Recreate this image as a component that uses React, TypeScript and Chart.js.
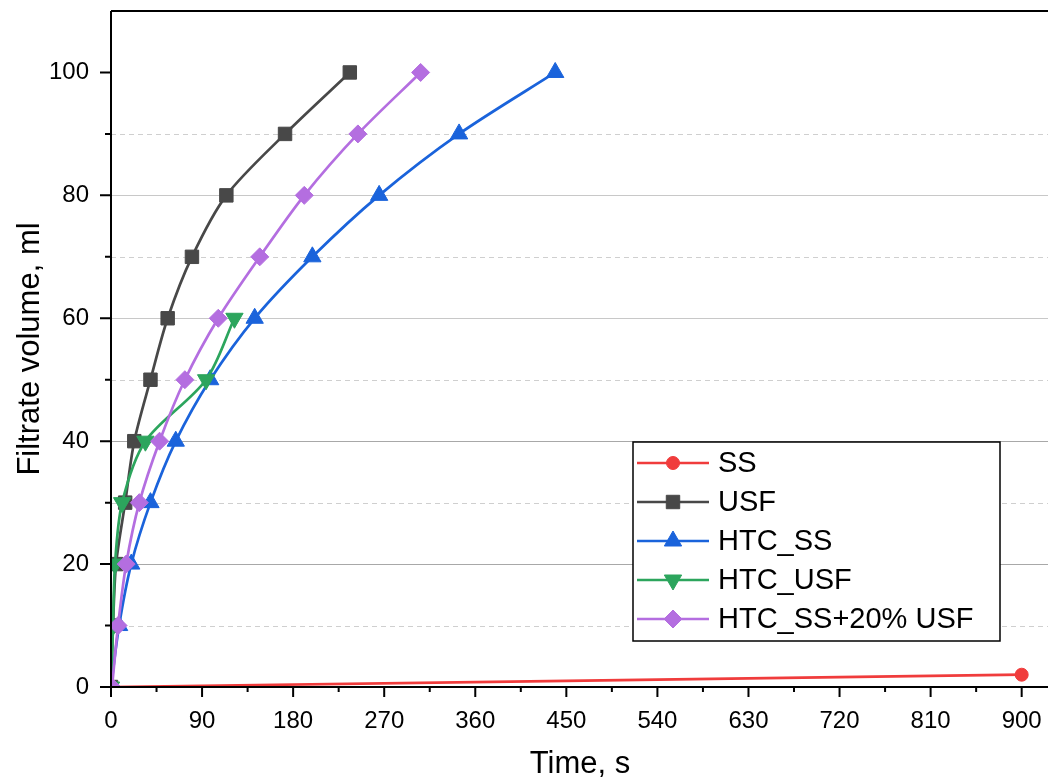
import React, { useEffect, useRef } from "react";
import { Chart, registerables } from "chart.js";
import { drawPoint } from "chart.js/helpers";

Chart.register(...registerables);

const seriesNames = ["SS", "USF", "HTC_SS", "HTC_USF", "HTC_SS+20% USF"];
const seriesColors = ["#F03C3C", "#484848", "#1A63DB", "#2CA55D", "#B46EE0"];
const seriesMarkers = ["circle", "rect", "triangle", "triangle", "rectRot"];
const seriesRotation = [0, 0, 0, 180, 0];
const seriesRadius = [6.5, 9.5, 10, 10, 9];

const volume = [0, 10, 20, 30, 40, 50, 60, 70, 80, 90, 100];

const ssTime = [0, 900];
const ssVolume = [0, 2];
const usfTime = [0, 2, 5, 14, 23, 39, 56, 80, 114, 172, 236];
const htcSsTime = [0, 8, 20, 39, 64, 98, 142, 199, 265, 344, 439];
const htcUsfTime = [0, 2, 4, 11, 34, 94, 122];
const htcMixTime = [1, 7, 15, 28, 48, 73, 106, 147, 191, 244, 306];

const xMajorTicks = [0, 90, 180, 270, 360, 450, 540, 630, 720, 810, 900];
const xMinorTicks = [45, 135, 225, 315, 405, 495, 585, 675, 765, 855];
const yMajorTicks = [0, 20, 40, 60, 80, 100];
const yMinorTicks = [10, 30, 50, 70, 90];
const ySolidGrid = [20, 40, 60, 80];
const yDashedGrid = [10, 30, 50, 70, 90];

const FONT = "'Liberation Sans', Arial, sans-serif";

function pts(xs: number[], ys: number[]) {
  return xs.map((x, i) => ({ x, y: ys[i] }));
}

const framePlugin = {
  id: "frame",
  beforeDatasetsDraw(chart: any) {
    const { ctx, chartArea } = chart;
    const y = chart.scales.y;
    ctx.save();
    ctx.lineWidth = 1;
    ySolidGrid.forEach((v) => {
      const p = Math.round(y.getPixelForValue(v)) + 0.5;
      ctx.strokeStyle = v <= 40 ? "#a8a8a8" : "#c8c8c8";
      ctx.setLineDash([]);
      ctx.beginPath();
      ctx.moveTo(chartArea.left, p);
      ctx.lineTo(chartArea.right, p);
      ctx.stroke();
    });
    ctx.strokeStyle = "#cfcfcf";
    ctx.setLineDash([5, 4]);
    yDashedGrid.forEach((v) => {
      const p = Math.round(y.getPixelForValue(v)) + 0.5;
      ctx.beginPath();
      ctx.moveTo(chartArea.left, p);
      ctx.lineTo(chartArea.right, p);
      ctx.stroke();
    });
    ctx.restore();
  },
  afterDatasetsDraw(chart: any) {
    const { ctx, chartArea } = chart;
    const x = chart.scales.x;
    const y = chart.scales.y;
    const L = chartArea.left, R = chartArea.right, T = chartArea.top, B = chartArea.bottom;
    ctx.save();
    ctx.strokeStyle = "#000";
    ctx.lineWidth = 2;
    ctx.setLineDash([]);
    ctx.beginPath();
    ctx.moveTo(L, T);
    ctx.lineTo(R, T);
    ctx.moveTo(L, T);
    ctx.lineTo(L, B);
    ctx.moveTo(L - 1, B);
    ctx.lineTo(R, B);
    xMajorTicks.forEach((v) => {
      const p = x.getPixelForValue(v);
      ctx.moveTo(p, B);
      ctx.lineTo(p, B + 10);
    });
    xMinorTicks.forEach((v) => {
      const p = x.getPixelForValue(v);
      ctx.moveTo(p, B);
      ctx.lineTo(p, B + 5);
    });
    yMajorTicks.forEach((v) => {
      const p = y.getPixelForValue(v);
      ctx.moveTo(L, p);
      ctx.lineTo(L - 11, p);
    });
    yMinorTicks.forEach((v) => {
      const p = y.getPixelForValue(v);
      ctx.moveTo(L, p);
      ctx.lineTo(L - 6, p);
    });
    ctx.stroke();
    ctx.restore();
  },
  afterDraw(chart: any) {
    const { ctx } = chart;
    const bx = 633, by = 442, bw = 367, bh = 199;
    ctx.save();
    ctx.fillStyle = "#fff";
    ctx.fillRect(bx, by, bw, bh);
    ctx.strokeStyle = "#000";
    ctx.lineWidth = 1.5;
    ctx.strokeRect(bx, by, bw, bh);
    const rowY = [463, 502, 541, 580, 619];
    seriesNames.forEach((name, i) => {
      const cy = rowY[i];
      ctx.strokeStyle = seriesColors[i];
      ctx.lineWidth = 2.5;
      ctx.beginPath();
      ctx.moveTo(637, cy);
      ctx.lineTo(709, cy);
      ctx.stroke();
      ctx.fillStyle = seriesColors[i];
      ctx.strokeStyle = seriesColors[i];
      ctx.lineWidth = 1;
      drawPoint(ctx, {
        pointStyle: seriesMarkers[i],
        radius: seriesRadius[i],
        rotation: seriesRotation[i],
        borderWidth: 1,
      } as any, 673, cy);
      ctx.fillStyle = "#000";
      ctx.font = `29px ${FONT}`;
      ctx.textBaseline = "middle";
      ctx.textAlign = "left";
      ctx.fillText(name, 718, cy + 1);
    });
    ctx.restore();
  },
};

export default function App() {
  const ref = useRef<HTMLCanvasElement | null>(null);
  useEffect(() => {
    if (!ref.current) return;
    const times = [ssTime, usfTime, htcSsTime, htcUsfTime, htcMixTime];
    const datasets = times.map((t, i) => ({
      label: seriesNames[i],
      data: i === 0 ? pts(ssTime, ssVolume) : pts(t, volume),
      showLine: true,
      borderColor: seriesColors[i],
      backgroundColor: seriesColors[i],
      pointBackgroundColor: seriesColors[i],
      pointBorderColor: seriesColors[i],
      pointStyle: seriesMarkers[i],
      pointRotation: seriesRotation[i],
      pointRadius: seriesRadius[i],
      pointBorderWidth: 1,
      borderWidth: 2.7,
      tension: 0.3,
      order: 4 - i,
    }));
    const chart = new Chart(ref.current, {
      type: "scatter",
      data: { datasets },
      plugins: [framePlugin],
      options: {
        animation: false,
        responsive: false,
        devicePixelRatio: 1,
        layout: { padding: { left: 12, top: 9, right: 0, bottom: 0 } },
        plugins: { legend: { display: false }, tooltip: { enabled: false } },
        scales: {
          x: {
            type: "linear",
            min: 0,
            max: 927,
            afterBuildTicks: (s: any) => {
              s.ticks = xMajorTicks.map((v) => ({ value: v }));
            },
            afterFit: (s: any) => {
              s.height = 96;
              s.paddingLeft = 0;
              s.paddingRight = 0;
              s.paddingTop = 0;
              s.paddingBottom = 0;
            },
            grid: { display: true, drawOnChartArea: false, drawTicks: false },
            border: { display: false },
            ticks: {
              color: "#000",
              padding: 20,
              maxRotation: 0,
              autoSkip: false,
              font: { family: FONT, size: 24 },
            },
            title: {
              display: true,
              text: "Time, s",
              color: "#000",
              padding: { top: 5, bottom: 0 },
              font: { family: FONT, size: 31 },
            },
          },
          y: {
            type: "linear",
            min: 0,
            max: 110,
            afterBuildTicks: (s: any) => {
              s.ticks = yMajorTicks.map((v) => ({ value: v }));
            },
            afterFit: (s: any) => {
              s.width = 99;
              s.paddingLeft = 0;
              s.paddingRight = 0;
              s.paddingTop = 0;
              s.paddingBottom = 0;
            },
            grid: { display: true, drawOnChartArea: false, drawTicks: false },
            border: { display: false },
            ticks: {
              color: "#000",
              padding: 22,
              autoSkip: false,
              font: { family: FONT, size: 24 },
            },
            title: {
              display: true,
              text: "Filtrate volume, ml",
              color: "#000",
              padding: { top: 0, bottom: 0 },
              font: { family: FONT, size: 31 },
            },
          },
        },
      },
    } as any);
    return () => chart.destroy();
  }, []);
  return (
    <div style={{ position: "fixed", left: 0, top: 0, width: 1048, height: 783, overflow: "hidden", background: "#fff" }}>
      <canvas ref={ref} width={1060} height={783} style={{ display: "block", width: 1060, height: 783 }} />
    </div>
  );
}
